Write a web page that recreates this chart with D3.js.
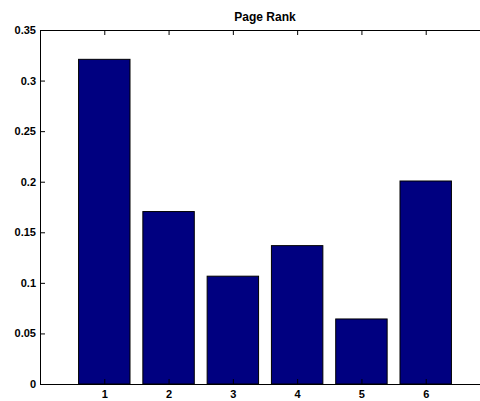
<!DOCTYPE html>
<html>
<head>
<meta charset="utf-8">
<script src="https://cdn.jsdelivr.net/npm/d3@7"></script>
<style>
  body { margin: 0; background: #fff; }
  svg { display: block; }
  text { font-family: "Liberation Sans", Arial, Helvetica, sans-serif; font-weight: bold; }
</style>
</head>
<body>
<svg id="chart" width="480" height="401"></svg>
<script>
// data
const pages = [1, 2, 3, 4, 5, 6];
const ranks = [0.3210, 0.1705, 0.1066, 0.1368, 0.0643, 0.2007];
const yTicks = [0, 0.05, 0.1, 0.15, 0.2, 0.25, 0.3, 0.35];
const title = "Page Rank";

// axes box (right edge falls outside the picture, as in the original)
const boxLeft = 40, boxTop = 30, boxRight = 490, boxBottom = 384;

const svg = d3.select("#chart");

const x = d3.scaleLinear().domain([0, 7]).range([boxLeft, boxRight]);
const y = d3.scaleLinear().domain([0, 0.35]).range([boxBottom, boxTop]);

const barWidth = 0.8;

// bars
svg.append("g")
  .selectAll("rect")
  .data(pages)
  .join("rect")
  .attr("x", function(d) { return x(d - barWidth / 2); })
  .attr("y", function(d, i) { return y(ranks[i]); })
  .attr("width", x(barWidth) - x(0))
  .attr("height", function(d, i) { return y(0) - y(ranks[i]); })
  .attr("fill", "#000080")
  .attr("stroke", "#000")
  .attr("stroke-width", 1);

const fmt = function(d) { return String(+d.toFixed(2)); };

// left axis, ticks inside
svg.append("g")
  .attr("transform", "translate(" + boxLeft + ",0)")
  .call(d3.axisLeft(y).tickValues(yTicks).tickFormat(fmt).tickSizeInner(-5).tickSizeOuter(0).tickPadding(4))
  .call(function(g) {
    g.selectAll("text").attr("font-size", 11).attr("font-family", null).attr("fill", "#000");
  });

// right axis, ticks only
svg.append("g")
  .attr("transform", "translate(" + boxRight + ",0)")
  .call(d3.axisRight(y).tickValues(yTicks).tickFormat("").tickSizeInner(-5).tickSizeOuter(0));

// bottom axis
svg.append("g")
  .attr("transform", "translate(0," + boxBottom + ")")
  .call(d3.axisBottom(x).tickValues(pages).tickFormat(d3.format("d")).tickSizeInner(-5).tickSizeOuter(0).tickPadding(6.5))
  .call(function(g) {
    g.selectAll("text").attr("font-size", 11).attr("font-family", null).attr("fill", "#000");
  });

// top axis, ticks only
svg.append("g")
  .attr("transform", "translate(0," + boxTop + ")")
  .call(d3.axisTop(x).tickValues(pages).tickFormat("").tickSizeInner(-5).tickSizeOuter(0));

svg.selectAll(".domain, .tick line").attr("stroke", "#000");

// title
svg.append("text")
  .attr("x", (boxLeft + boxRight) / 2)
  .attr("y", boxTop - 9)
  .attr("text-anchor", "middle")
  .attr("font-size", 12)
  .attr("fill", "#000")
  .text(title);
</script>
</body>
</html>
